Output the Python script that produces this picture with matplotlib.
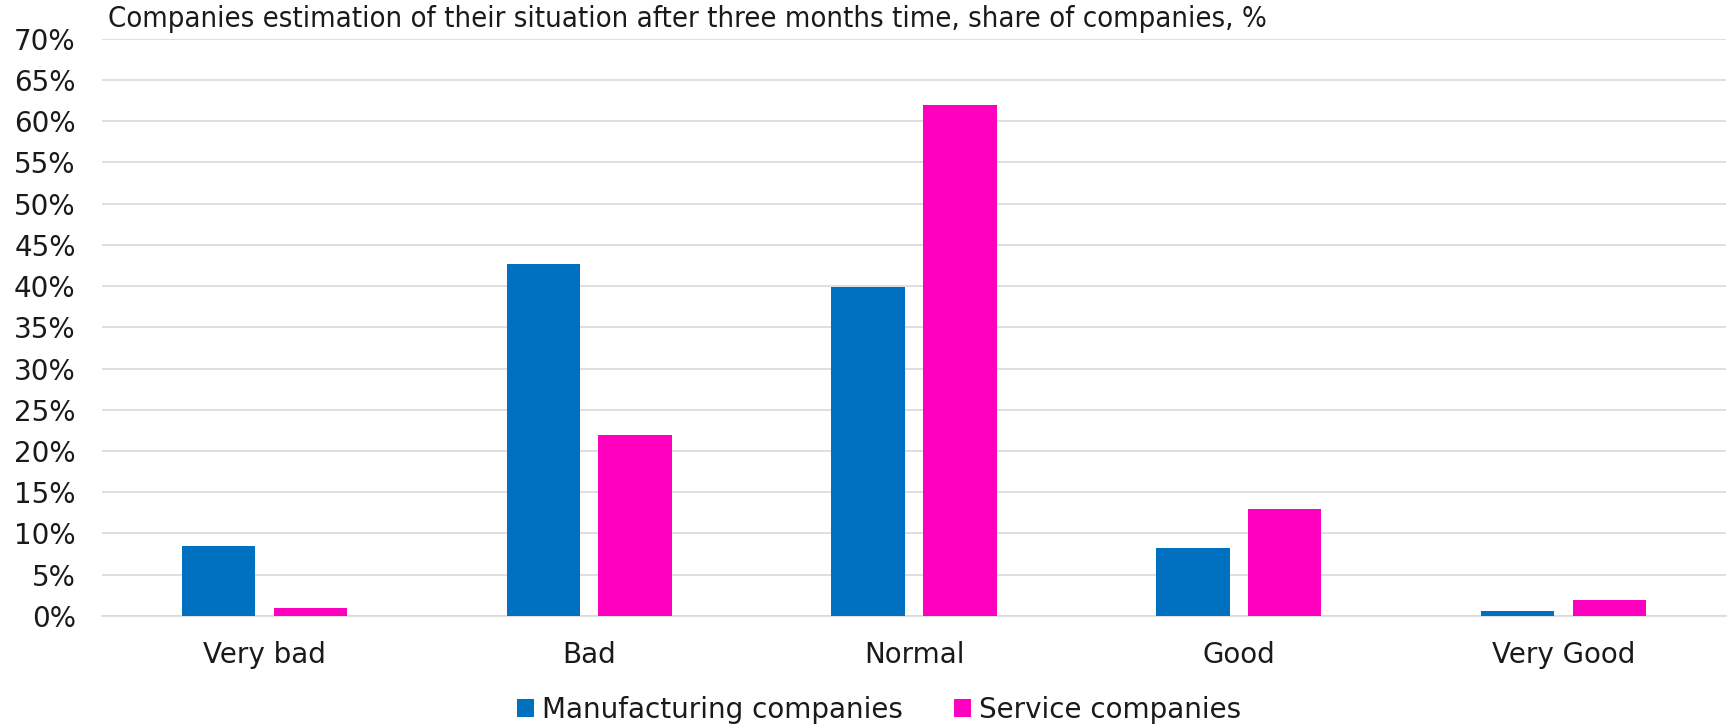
import matplotlib
matplotlib.use("Agg")
import matplotlib.pyplot as plt
import numpy as np
from matplotlib import font_manager

categories = ["Very bad", "Bad", "Normal", "Good", "Very Good"]
manufacturing = [8.5, 42.7, 39.9, 8.2, 0.6]
service = [1.0, 22.0, 62.0, 13.0, 1.9]
series_names = ["Manufacturing companies", "Service companies"]
title = "Companies estimation of their situation after three months time, share of companies, %"

BLUE = "#0070C0"
PINK = "#FF00BF"
GRID = "#D9D9D9"
TEXT = "#1a1a1a"

plt.rcParams["font.family"] = "DejaVu Sans"

# narrow face for the heading if one is available
names = {f.name for f in font_manager.fontManager.ttflist}
title_font = {"family": "DejaVu Sans", "stretch": "condensed"}
if "Liberation Sans Narrow" in names:
    title_font = {"family": "Liberation Sans Narrow"}

fig = plt.figure(figsize=(17.27, 7.27), dpi=100)
ax = fig.add_axes([0.0591, 0.1527, 0.9403, 0.7943])

x = np.arange(len(categories))
width = 0.226
offset = 0.1415
ax.bar(x - offset, manufacturing, width, color=BLUE, label=series_names[0], zorder=3)
ax.bar(x + offset, service, width, color=PINK, label=series_names[1], zorder=3)

ax.set_xlim(-0.5, len(categories) - 0.5)
ax.set_ylim(0, 70)
ax.set_yticks(np.arange(0, 71, 5))
ax.set_yticklabels([f"{v}%" for v in range(0, 71, 5)])
ax.set_xticks(x)
ax.set_xticklabels(categories)
ax.tick_params(axis="both", length=0, labelsize=20, colors=TEXT)
ax.tick_params(axis="y", pad=19)
ax.tick_params(axis="x", pad=18)

ax.grid(axis="y", color=GRID, linewidth=1.2, zorder=0)
for side in ["top", "right", "left"]:
    ax.spines[side].set_visible(False)
ax.spines["bottom"].set_color(GRID)
ax.spines["bottom"].set_linewidth(1.2)

fig.text(108 / 1727, 1 - 19 / 727, title, fontsize=21, color=TEXT,
         ha="left", va="center", **title_font)

fig.legend(loc="center", bbox_to_anchor=(0.509, 0.0234), ncol=2, frameon=False,
           fontsize=20, handlelength=0.6, handleheight=0.6, handletextpad=0.3,
           columnspacing=1.85, labelcolor=TEXT)

fig.savefig("out.png", dpi=100)
